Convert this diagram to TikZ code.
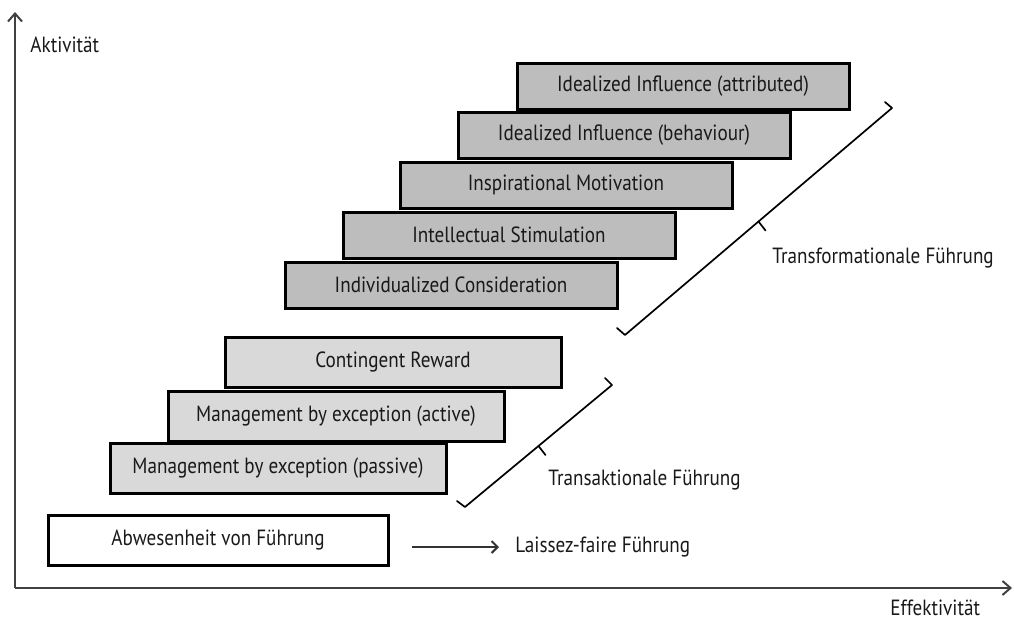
\documentclass[tikz,border=0pt]{standalone}
\usepackage{fontspec}
\setmainfont{PT Sans}[FakeStretch=0.87]
\usetikzlibrary{arrows.meta,calc}
\tikzset{
  txt/.style = {font=\fontsize{11}{13}\selectfont, text=black!90},
  stufe/.style = {draw, txt, line width=1.5pt, minimum width=166pt,
    minimum height=23pt, inner sep=0pt},
  transf/.style = {stufe, fill=black!26},
  transa/.style = {stufe, fill=black!15, minimum width=168pt, minimum height=25pt},
  lbl/.style = {txt, anchor=west, inner sep=0pt},
  klammer/.style = {line width=.85pt, line cap=round, line join=round},
  achse/.style = {line width=1pt, black!75, -{Straight Barb[length=4pt,width=7pt]}}
}
\begin{document}
\begin{tikzpicture}[x=.5pt, y=-.5pt]
  \useasboundingbox (0,0) rectangle (1014,621);
  % Achsen
  \coordinate (o) at (15,588);
  \coordinate (ytop) at (15,12);
  \coordinate (xend) at (1012,588);
  \draw[achse] (o) -- (ytop);
  \draw[achse] (o) -- (xend);
  \node[lbl] (akt) at (30,45) {Aktivität};
  \node[lbl] (eff) at (890,608) {Effektivität};
  % transformationale Stufen
  \node[transf] (iia) at (683,86) {Idealized Influence (attributed)};
  \node[transf] (iib) at (624,135) {Idealized Influence (behaviour)};
  \node[transf] (im)  at (566,185) {Inspirational Motivation};
  \node[transf] (is)  at (509,235) {Intellectual Stimulation};
  \node[transf] (ic)  at (451,285) {Individualized Consideration};
  % transaktionale Stufen
  \node[transa] (cr)  at (393,362) {Contingent Reward};
  \node[transa] (mea) at (336,416) {Management by exception (active)};
  \node[transa] (mep) at (278,468) {Management by exception (passive)};
  % laissez-faire
  \node[stufe, minimum width=170pt, minimum height=25pt] (abw) at (218,540)
    {Abwesenheit von Führung};
  \node[lbl] (lf) at (515,547) {Laissez-faire Führung};
  \draw[line width=1pt, black!80, -{Straight Barb[length=3pt,width=6pt]},
    shorten <=11pt, shorten >=8pt] (abw.east |- lf.west) -- (lf.west);
  % Klammern
  \coordinate (tfa) at (625,335);
  \coordinate (tfb) at (892,108);
  \draw[klammer] (617,328) -- (tfa) -- (tfb) -- (885,102);
  \draw[klammer] ($(tfa)!.5!(tfb)$) -- ++(7,9);
  \node[lbl] (tfl) at (772,258) {Transformationale Führung};
  \coordinate (taa) at (465,507);
  \coordinate (tab) at (612,385);
  \draw[klammer] (457,501) -- (taa) -- (tab) -- (605,378);
  \draw[klammer] ($(taa)!.5!(tab)$) -- ++(7,9);
  \node[lbl] (tal) at (548,480) {Transaktionale Führung};
\end{tikzpicture}
\end{document}
